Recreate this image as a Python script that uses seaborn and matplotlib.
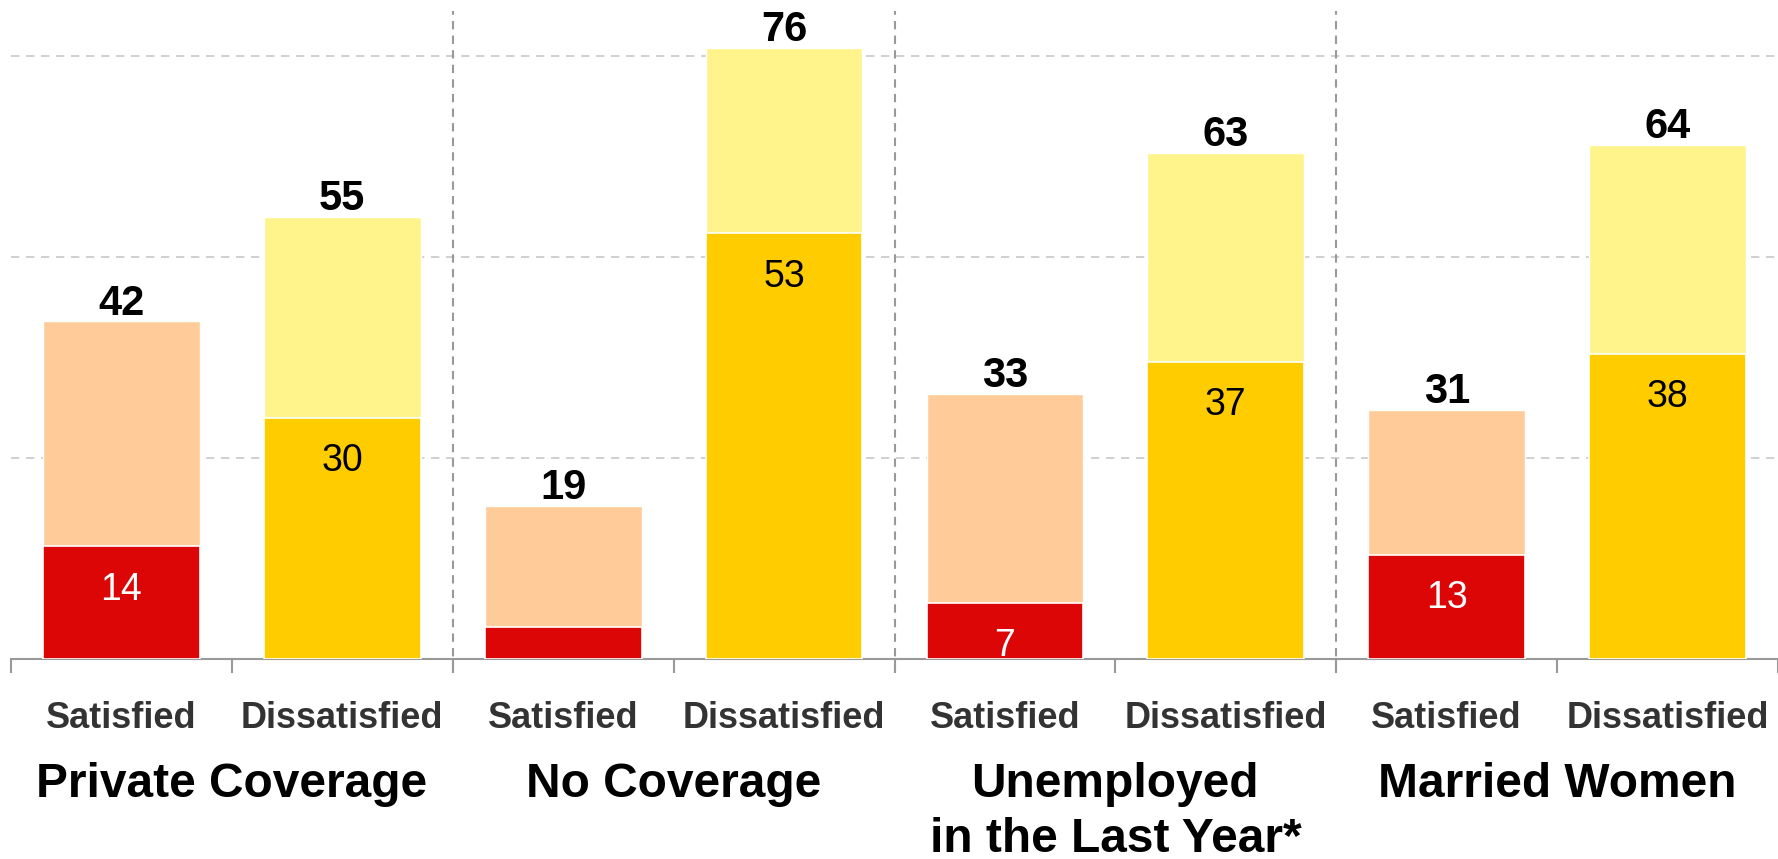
import matplotlib
matplotlib.use("Agg")
import matplotlib.pyplot as plt
import numpy as np
import pandas as pd
import seaborn as sns

# data
groups = ["Private Coverage", "No Coverage", "Unemployed\nin the Last Year*", "Married Women"]
answers = ["Satisfied", "Dissatisfied"]
totals = [42, 55, 19, 76, 33, 63, 31, 64]
strong = [14, 30, 4, 53, 7, 37, 13, 38]
strong_labels = ["14", "30", "", "53", "7", "37", "13", "38"]

light_colors = {"Satisfied": "#FFCC99", "Dissatisfied": "#FFF48C"}
dark_colors = {"Satisfied": "#DD0606", "Dissatisfied": "#FFCC00"}
label_colors = {"Satisfied": "white", "Dissatisfied": "black"}

keys = [f"{g}|{a}" for g in groups for a in answers]
kinds = [a for g in groups for a in answers]
df = pd.DataFrame({"key": keys, "answer": kinds, "total": totals, "strong": strong})

sns.set_theme(style="white")
plt.rcParams["font.family"] = ["Liberation Sans", "DejaVu Sans"]

fig = plt.figure(figsize=(17.78, 8.59), dpi=100)
ax = fig.add_axes([11 / 1778, 1 - 659 / 859, 1 - 11 / 1778, 659 / 859])

sns.barplot(data=df, x="key", y="total", hue="answer", palette=light_colors, dodge=False,
            width=0.71, saturation=1, legend=False, ax=ax, zorder=2)
sns.barplot(data=df, x="key", y="strong", hue="answer", palette=dark_colors, dodge=False,
            width=0.71, saturation=1, legend=False, ax=ax, edgecolor="white", linewidth=1.2,
            zorder=3)

ax.set_ylim(0, 82)
ax.set_xlim(-0.5, 7.40)
ax.set_xlabel("")
ax.set_ylabel("")
ax.set_yticks([])

# grid lines
for y in [25, 50, 75]:
    ax.axhline(y, color="#c8c8c8", lw=1.2, ls=(0, (5, 4)), zorder=1)

# group dividers
for x in [1.5, 3.5, 5.5]:
    ax.axvline(x, ymin=-0.018, ymax=0.983, color="#999999", lw=1.5, ls=(0, (4, 3)),
               clip_on=False, zorder=1)

for s in ["top", "right", "left"]:
    ax.spines[s].set_visible(False)
ax.spines["bottom"].set_color("#999999")
ax.spines["bottom"].set_linewidth(1.5)

ax.set_xticks(np.arange(-0.5, 8, 1), minor=True)
ax.set_xticks([])
ax.tick_params(axis="x", which="minor", length=10, width=1.5, color="#999999", direction="out", bottom=True)

# value labels
for i, (t, s, lab, a) in enumerate(zip(totals, strong, strong_labels, kinds)):
    ax.annotate(str(t), (i, t), xytext=(0, 5), textcoords="offset points", ha="center",
                va="baseline", fontsize=30, fontweight="bold", color="black")
    if lab:
        ax.annotate(lab, (i, s), xytext=(0, -38.5), textcoords="offset points", ha="center",
                    va="baseline", fontsize=27, color=label_colors[a])

# category labels
tr = ax.get_xaxis_transform()
for i, a in enumerate(kinds):
    ax.text(i, -0.064, a, transform=tr, ha="center", va="top", fontsize=26,
            fontweight="bold", color="#333333")
for j, g in enumerate(groups):
    ax.text(2 * j + 0.5, -0.157, g, transform=tr, ha="center", va="top", fontsize=34.5,
            fontweight="bold", color="black", linespacing=1.27)

fig.savefig("out.png", dpi=100)
